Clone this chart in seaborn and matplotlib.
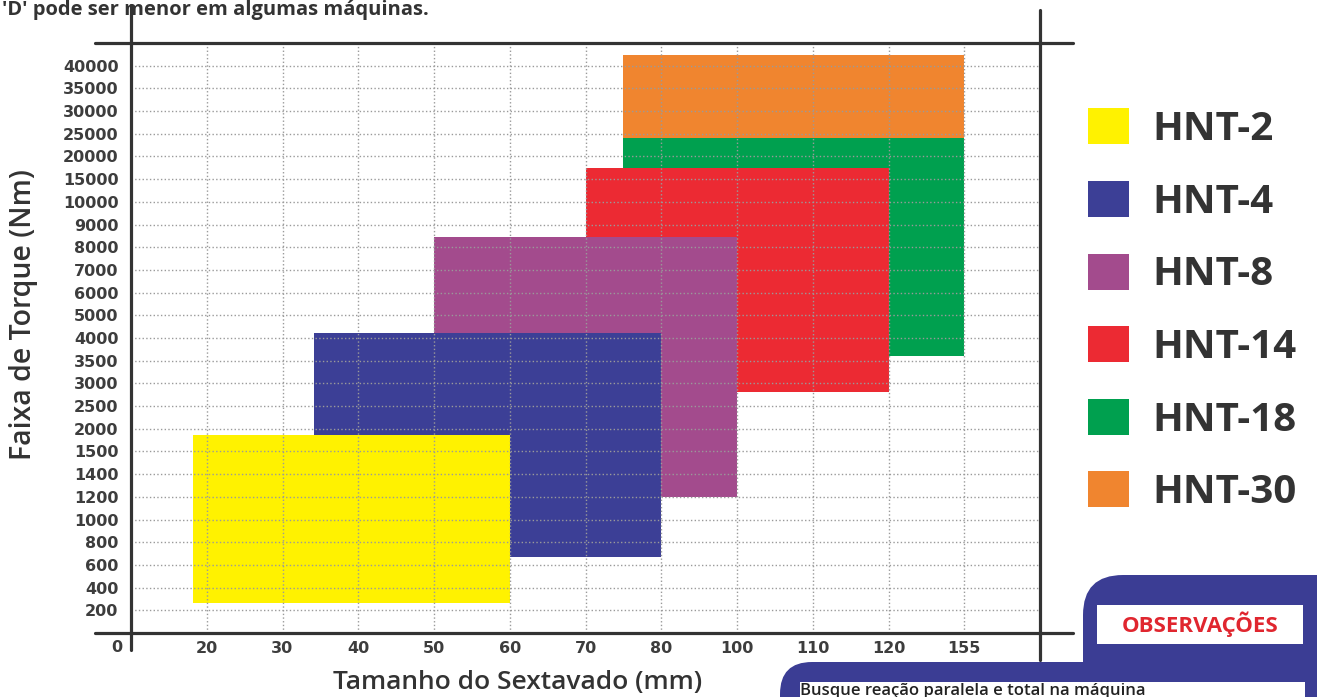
import numpy as np
import matplotlib
matplotlib.use('agg')
import matplotlib.pyplot as plt
import seaborn as sns
from matplotlib.patches import Patch, FancyBboxPatch, Rectangle

# axis categories (unevenly spaced, drawn at equal steps)
x_labels = [0, 20, 30, 40, 50, 60, 70, 80, 100, 110, 120, 155]
y_labels = [200, 400, 600, 800, 1000, 1200, 1400, 1500, 2000, 2500, 3000, 3500,
            4000, 5000, 6000, 7000, 8000, 9000, 10000, 15000, 20000, 25000,
            30000, 35000, 40000]
y_scale = [0] + y_labels + [45000]   # axis ends

models = ['HNT-2', 'HNT-4', 'HNT-8', 'HNT-14', 'HNT-18', 'HNT-30']
hex_min = [16.4, 34.2, 50, 70, 75, 75]
hex_max = [60, 80, 100, 120, 155, 155]
torque_min = [267, 670, 1200, 2810, 3600, 24150]
torque_max = [1860, 4200, 8440, 17400, 24150, 42300]
colors = ['#fff200', '#3c3f96', '#a34b8d', '#ec2a33', '#00a04f', '#f0852f']

sns.set_theme(style='white')
plt.rcParams['font.family'] = ['Open Sans', 'DejaVu Sans']
dark = '#333333'

fig = plt.figure(figsize=(13.17, 6.97), dpi=100)
ax = fig.add_axes([131 / 1317, 64 / 697, 909 / 1317, 590 / 697])

# map values onto the equal-step category positions
xs = np.arange(len(x_labels))
ys = np.arange(len(y_scale))
x0 = np.interp(hex_min, x_labels, xs)
x1 = np.interp(hex_max, x_labels, xs)
y0 = np.interp(torque_min, y_scale, ys)
y1 = np.interp(torque_max, y_scale, ys)

# draw back to front: HNT-30 first, HNT-2 on top
for i in reversed(range(len(models))):
    ax.bar(x0[i], y1[i] - y0[i], width=x1[i] - x0[i], bottom=y0[i],
           align='edge', color=colors[i], linewidth=0, zorder=2)

ax.set_xlim(0, 12)
ax.set_ylim(0, 26)
ax.set_xticks(xs[1:])
ax.set_xticklabels([str(v) for v in x_labels[1:]])
ax.set_yticks(ys[1:-1])
ax.set_yticklabels([str(v) for v in y_labels])
for lab in ax.get_xticklabels() + ax.get_yticklabels():
    lab.set_fontfamily('DejaVu Sans')
    lab.set_fontweight('bold')
    lab.set_fontsize(11.5)
    lab.set_color('#3d3d3d')
ax.tick_params(axis='x', length=0, pad=6)
ax.tick_params(axis='y', length=0, pad=9)
ax.text(-0.19, -0.65, '0', ha='center', va='center', fontsize=11.5,
        fontweight='bold', family='DejaVu Sans', color='#3d3d3d')

ax.grid(True, linestyle=':', color='#9a9a9a', linewidth=1, zorder=3)
ax.set_axisbelow(False)
for s in ax.spines.values():
    s.set_visible(False)

# cross-shaped frame lines
kw = dict(transform=ax.transAxes, clip_on=False, color=dark, lw=2.3, zorder=5)
ax.plot([-0.04, 1.036], [1, 1], **kw)
ax.plot([-0.04, 1.036], [0, 0], **kw)
ax.plot([0, 0], [-0.029, 1.064], **kw)
ax.plot([1, 1], [-0.046, 1.056], **kw)

ax.set_xlabel('Tamanho do Sextavado (mm)', fontsize=19, fontweight='semibold',
              color=dark)
ax.xaxis.set_label_coords(0.425, -0.062)
ax.set_ylabel('Faixa de Torque (Nm)', fontsize=20.5, fontweight='semibold',
              color=dark)
ax.yaxis.set_label_coords(-0.102, 0.54)

handles = [Patch(facecolor=c, edgecolor='none') for c in colors]
fig.legend(handles, models, loc='upper left', bbox_to_anchor=(1052 / 1317, 1 - 72 / 697),
           frameon=False, handlelength=1.0, handleheight=1.0,
           handletextpad=0.6, labelspacing=0.79, prop={'weight': 'bold', 'size': 29})
for t in fig.legends[0].get_texts():
    t.set_color(dark)

fig.text(2 / 1317, 1 - 10 / 697, "'D' pode ser menor em algumas máquinas.",
         fontsize=14.5, fontweight='bold', color=dark, va='center')

# observations panel
navy = '#3b3d94'
tr = fig.dpi_scale_trans
fig.patches.append(FancyBboxPatch((10.83, -1.0), 4.0, 2.22,
                                  boxstyle='round,pad=0,rounding_size=0.4',
                                  facecolor=navy, edgecolor='none', transform=tr))
fig.patches.append(FancyBboxPatch((7.8, -1.0), 7.0, 1.35,
                                  boxstyle='round,pad=0,rounding_size=0.32',
                                  facecolor=navy, edgecolor='none', transform=tr))
fig.patches.append(Rectangle((10.97, 0.53), 2.06, 0.39, facecolor='white',
                             edgecolor='none', transform=tr))
fig.patches.append(Rectangle((8.0, -0.5), 5.05, 0.65, facecolor='white',
                             edgecolor='none', transform=tr))
fig.text(12.0 / 13.17, 0.725 / 6.97, 'OBSERVAÇÕES', fontsize=16, fontweight='bold',
         color='#e0262f', ha='center', va='center')
fig.text(8.0 / 13.17, 0.02 / 6.97, 'Busque reação paralela e total na máquina',
         fontsize=12, fontweight='semibold', color='#222222', ha='left', va='baseline')

fig.savefig('out.png', dpi=100, facecolor='white')
